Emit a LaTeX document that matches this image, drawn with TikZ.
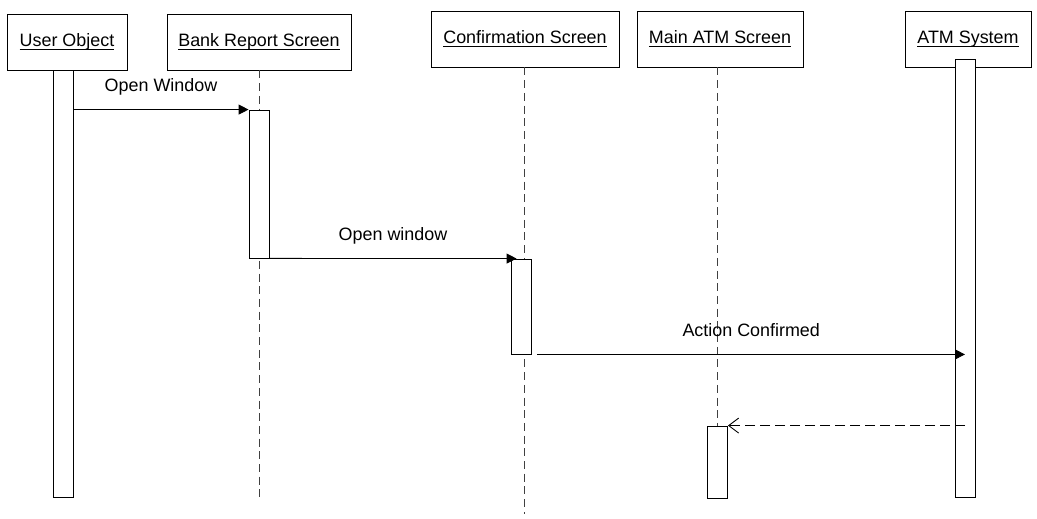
\documentclass[tikz,border=0pt]{standalone}
\usepackage{fontspec}
\setmainfont{Liberation Sans}
\usetikzlibrary{arrows.meta}

% underlined object name, depth removed so the caps sit centred in the box
\newcommand\objname[1]{\setbox0\hbox{#1}\rlap{\rule[-1.7pt]{\wd0}{0.5pt}}\smash{\box0}\rule{0pt}{7.3pt}}

\tikzset{
  objbox/.style={draw, line width=0.5pt, fill=white, minimum height=1.12cm, inner sep=0pt},
  actbar/.style={draw, line width=0.5pt, fill=white, minimum width=0.4cm, inner sep=0pt},
  life/.style={draw=black!75, line width=0.5pt, dash pattern=on 0.16cm off 0.094cm},
  msg/.style={line width=0.5pt, -{Triangle[length=0.2cm,width=0.2cm]}},
  reply/.style={line width=0.5pt, dash pattern=on 0.2cm off 0.1cm, -{Straight Barb[length=0.2cm,width=0.3cm,line width=0.5pt]}},
  lab/.style={midway, anchor=base, yshift=0.36cm, inner sep=0pt}
}

\begin{document}
\begin{tikzpicture}[x=0.02cm, y=-0.02cm, font=\fontsize{10.2pt}{12pt}\selectfont]
\useasboundingbox (0,0) rectangle (1037,519);

% objects
\node[objbox, minimum width=2.4cm]  (user) at (67,42)  {\objname{User Object}};
\node[objbox, minimum width=3.68cm] (bank) at (259,42) {\objname{Bank Report Screen}};
\node[objbox, minimum width=3.76cm] (conf) at (525,39) {\objname{Confirmation Screen}};
\node[objbox, minimum width=3.32cm] (main) at (720,39) {\objname{Main ATM Screen}};
\node[objbox, minimum width=2.52cm] (atm)  at (968,39) {\objname{ATM System}};

% lifeline ends
\coordinate (bankend) at (259,502);
\coordinate (confend) at (524,514);

% lifelines
\draw[life] (bank.south) -- (bankend);
\draw[life] (confend |- conf.south) -- (confend);

% activation bars
\node[actbar, minimum height=8.54cm] (uact) at (63,283.5)   {};
\node[actbar, minimum height=2.96cm] (bact) at (259,184)    {};
\node[actbar, minimum height=1.9cm]  (cact) at (521,306.5)  {};
\node[actbar, minimum height=1.44cm] (mact) at (717.5,462)  {};
\node[actbar, minimum height=8.75cm] (aact) at (965,278.25) {};

\draw[life] (mact.north |- main.south) -- (mact.north);

% messages
\draw[msg] (uact.east |- bact.north) -- (bact.north west)
  node[lab] {Open Window};
\draw[msg] (bact.south east) -- ([xshift=0.12cm]cact.north west)
  node[lab] {Open window};
\draw[msg] ([xshift=0.12cm]cact.south east) -- (aact.center |- cact.south)
  node[lab] {Action Confirmed};
\draw[reply] (aact.center |- mact.north) -- (mact.north east);
\end{tikzpicture}
\end{document}
